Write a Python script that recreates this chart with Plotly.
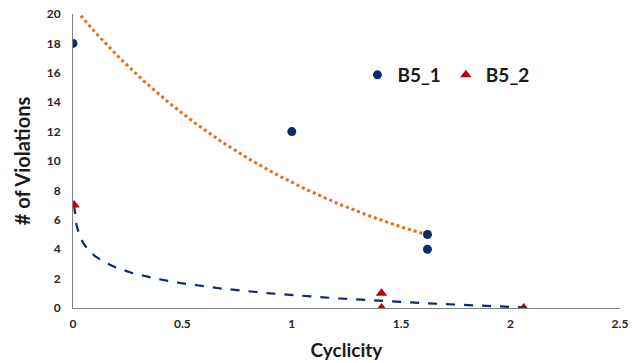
import numpy as np
import plotly.graph_objects as go

# Data
b51_x = [0.0, 1.0, 1.62, 1.62]
b51_y = [18, 12, 5, 4]
b52_x = [0.005, 1.41, 1.41, 2.06]
b52_y = [7, 1, 0, 0]

x_ticks = [0, 0.5, 1, 1.5, 2, 2.5]
y_ticks = list(range(0, 21, 2))

# Exponential trend for B5_1
bx = np.array(b51_x); by = np.array(b51_y, dtype=float)
k, lna = np.polyfit(bx, np.log(by), 1)
tx1 = np.linspace(bx.min(), bx.max(), 200)
ty1 = np.exp(lna) * np.exp(k * tx1)

# Logarithmic trend for B5_2
cx = np.array(b52_x); cy = np.array(b52_y, dtype=float)
b, a = np.polyfit(np.log(cx), cy, 1)
tx2 = np.exp(np.linspace(np.log(cx.min()), np.log(cx.max()), 300))
ty2 = a + b * np.log(tx2)

FONT = "Lato"

fig = go.Figure()
fig.add_trace(go.Scatter(x=tx1, y=ty1, mode="lines", showlegend=False,
                         line=dict(color="#E36C1D", width=3, dash="dot"), hoverinfo="skip"))
fig.add_trace(go.Scatter(x=tx2, y=ty2, mode="lines", showlegend=False,
                         line=dict(color="#0D2A6B", width=2.2, dash="dash"), hoverinfo="skip"))
fig.add_trace(go.Scatter(x=b51_x, y=b51_y, mode="markers", name="B5_1",
                         marker=dict(symbol="circle", size=9, color="#0D2A6B")))
fig.add_trace(go.Scatter(x=b52_x, y=b52_y, mode="markers", name="B5_2",
                         marker=dict(symbol="triangle-up", size=10, color="#C00000")))

fig.update_layout(
    width=640, height=363,
    margin=dict(l=73, r=20, t=14, b=55),
    paper_bgcolor="white", plot_bgcolor="white",
    font=dict(family=FONT, color="#262626"),
    legend=dict(orientation="h", x=0.52, y=0.7925, xanchor="left", yanchor="middle",
                font=dict(size=19, family=FONT, color="#1a1a1a", weight="bold"),
                itemsizing="trace", bgcolor="rgba(0,0,0,0)"),
    xaxis=dict(range=[0, 2.5], tickvals=x_ticks, ticktext=[str(v) for v in x_ticks],
               showgrid=False, zeroline=False, showline=True, linecolor="#808080", linewidth=1,
               ticks="", automargin=False, ticklabelstandoff=5, ticklabeloverflow="allow",
               tickfont=dict(size=12, family=FONT, color="#262626", weight="bold"),
               title=dict(text="Cyclicity", font=dict(size=19, color="#1a1a1a", weight="bold"), standoff=13)),
    yaxis=dict(range=[0, 20], tickvals=y_ticks, showgrid=False, zeroline=False,
               showline=True, linecolor="#808080", linewidth=1, ticks="", automargin=False,
               ticklabelstandoff=9, ticklabeloverflow="allow",
               tickfont=dict(size=12, family=FONT, color="#262626", weight="bold"),
               title=dict(text="# of Violations", font=dict(size=20, color="#1a1a1a", weight="bold"), standoff=10)),
)

fig.write_html("out.html", config={"displayModeBar": False},
               post_script="document.body.style.margin='0';")
